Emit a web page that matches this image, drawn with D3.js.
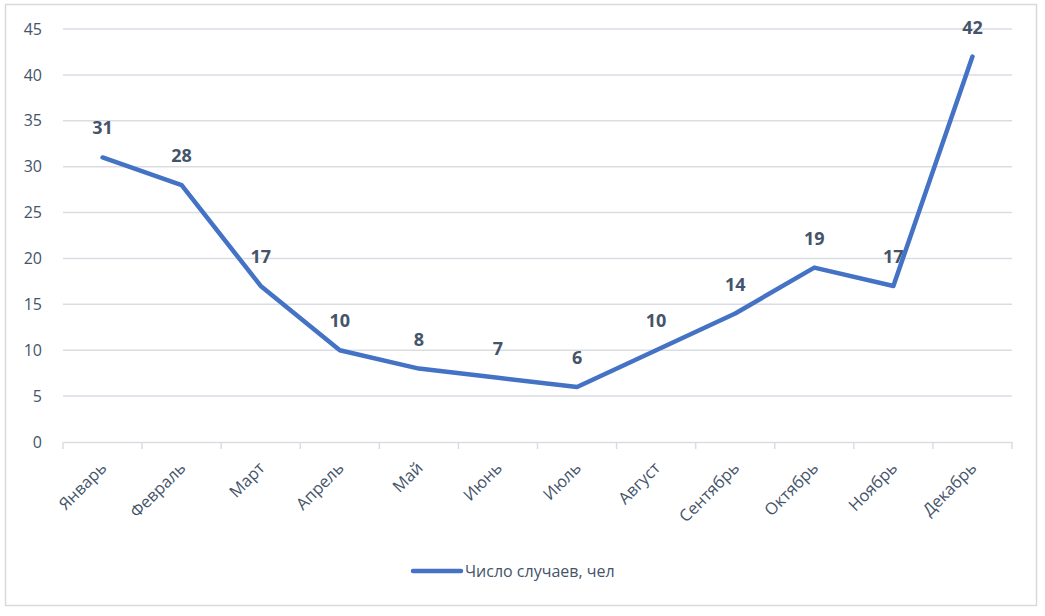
<!DOCTYPE html>
<html><head><meta charset="utf-8">
<script src="https://cdn.jsdelivr.net/npm/d3@7"></script>
<style>body{margin:0;background:#fff;} svg{display:block;font-family:"Open Sans",sans-serif;}</style>
</head><body>
<svg id="c" width="1045" height="616"></svg>
<script>
const months = ["Январь","Февраль","Март","Апрель","Май","Июнь","Июль","Август","Сентябрь","Октябрь","Ноябрь","Декабрь"];
const cases = [31,28,17,10,8,7,6,10,14,19,17,42];
const yTicks = [0,5,10,15,20,25,30,35,40,45];
const seriesName = "Число случаев, чел";

const svg = d3.select("#c");
const textColor = "#44546a", gridColor = "#d9dde2", lineColor = "#4472c4";
svg.append("rect").attr("x",5.5).attr("y",4.5).attr("width",1031).attr("height",601)
  .attr("fill","#fff").attr("stroke","#d9d9d9").attr("stroke-width",1.5);

const L=63, R=1012, T=29, B=442;
const x = d3.scaleBand().domain(months).range([L,R]);
const y = d3.scaleLinear().domain([0,45]).range([B,T]);

// grid
const grid = svg.append("g");
grid.selectAll("line").data(yTicks.filter(d=>d>0)).join("line")
  .attr("x1",L).attr("x2",R).attr("y1",d=>y(d)).attr("y2",d=>y(d))
  .attr("stroke",gridColor).attr("stroke-width",1.5);

// y axis labels
const ya = svg.append("g").attr("transform",`translate(${L},0)`)
  .call(d3.axisLeft(y).tickValues(yTicks).tickSize(0).tickPadding(21));
ya.select(".domain").remove();
ya.selectAll("text").attr("fill",textColor).style("font-size","16px").style("font-family","'Open Sans',sans-serif");

// x axis
const xa = svg.append("g").attr("transform",`translate(0,${B})`)
  .call(d3.axisBottom(x).tickSize(0).tickFormat(""));
xa.select(".domain").attr("stroke",gridColor).attr("stroke-width",1.5);
const edges = months.map(m=>x(m)).concat([R]);
xa.selectAll(".edge").data(edges).join("line").attr("class","edge")
  .attr("x1",d=>d).attr("x2",d=>d).attr("y1",0).attr("y2",7)
  .attr("stroke",gridColor).attr("stroke-width",1.5);
svg.append("g").selectAll("text").data(months).join("text")
  .attr("transform",d=>`translate(${x(d)+x.bandwidth()/2+1},${B+23}) rotate(-45)`)
  .attr("text-anchor","end").attr("dy","0.35em")
  .attr("fill",textColor).style("font-size","16.5px").text(d=>d);

// line
const cx = d=>x(d)+x.bandwidth()/2;
const line = d3.line().x((d,i)=>cx(months[i])).y(d=>y(d));
svg.append("path").datum(cases).attr("d",line).attr("fill","none")
  .attr("stroke",lineColor).attr("stroke-width",4.5).attr("stroke-linejoin","round").attr("stroke-linecap","round");

// data labels
svg.append("g").selectAll("text").data(cases).join("text")
  .attr("x",(d,i)=>cx(months[i])).attr("y",d=>y(d)-23)
  .attr("text-anchor","middle").attr("fill",textColor)
  .style("font-size","18px").style("font-weight","bold").text(d=>d);

// legend
svg.append("line").attr("x1",413).attr("x2",461).attr("y1",571).attr("y2",571)
  .attr("stroke",lineColor).attr("stroke-width",4.5).attr("stroke-linecap","round");
svg.append("text").attr("x",465).attr("y",571).attr("dy","0.35em")
  .attr("fill",textColor).style("font-size","16px").text(seriesName);
</script>
</body></html>
